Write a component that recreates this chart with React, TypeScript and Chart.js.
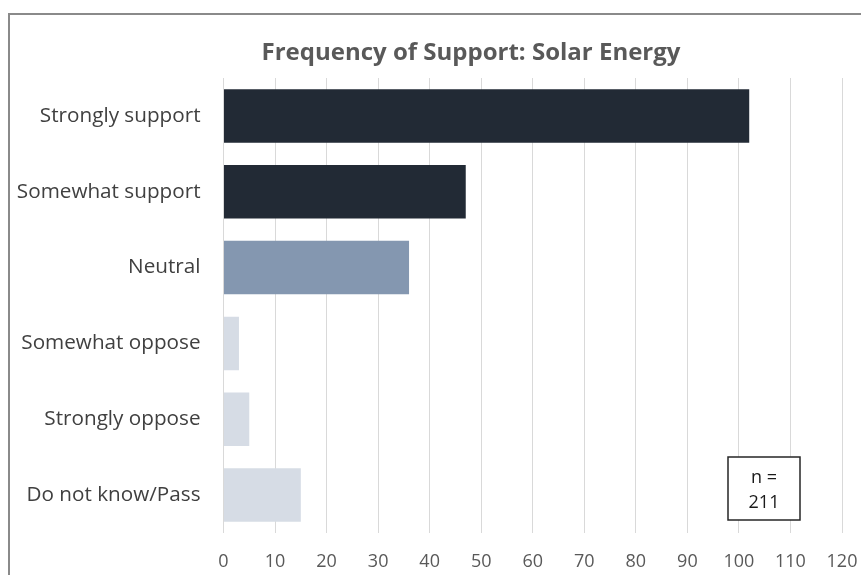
import React, { useEffect, useRef } from "react";
import { Chart, registerables } from "chart.js";

Chart.register(...registerables);

const TITLE = "Frequency of Support: Solar Energy";
const categories = [
  "Strongly support",
  "Somewhat support",
  "Neutral",
  "Somewhat oppose",
  "Strongly oppose",
  "Do not know/Pass",
];
const counts = [102, 47, 36, 3, 5, 15];
const barColors = ["#222A35", "#222A35", "#8497B0", "#D6DCE5", "#D6DCE5", "#D6DCE5"];
const xTicks = [0, 10, 20, 30, 40, 50, 60, 70, 80, 90, 100, 110, 120];
const noteLines = ["n =", "211"];

const FONT = "'Open Sans', 'DejaVu Sans', sans-serif";

const decorPlugin = {
  id: "decor",
  beforeDraw(chart: any) {
    const ctx = chart.ctx;
    ctx.save();
    ctx.fillStyle = "#ffffff";
    ctx.fillRect(0, 0, chart.width, chart.height);
    ctx.restore();
  },
  afterDraw(chart: any) {
    const ctx = chart.ctx;
    ctx.save();
    // outer frame (top and left edges visible)
    ctx.strokeStyle = "#8a8a8a";
    ctx.lineWidth = 2;
    ctx.beginPath();
    ctx.moveTo(9, chart.height);
    ctx.lineTo(9, 14);
    ctx.lineTo(chart.width, 14);
    ctx.stroke();

    // title
    ctx.fillStyle = "#595959";
    ctx.font = `bold 24px ${FONT}`;
    ctx.textAlign = "center";
    ctx.textBaseline = "middle";
    ctx.fillText(TITLE, 471, 53);

    // n box
    const bx = 728, by = 457, bw = 72, bh = 63;
    ctx.fillStyle = "#ffffff";
    ctx.fillRect(bx, by, bw, bh);
    ctx.strokeStyle = "#262626";
    ctx.lineWidth = 1.5;
    ctx.strokeRect(bx, by, bw, bh);
    ctx.fillStyle = "#1a1a1a";
    ctx.font = `18px ${FONT}`;
    ctx.fillText(noteLines[0], bx + bw / 2, 478);
    ctx.fillText(noteLines[1], bx + bw / 2, 503);
    ctx.restore();
  },
};

export default function App() {
  const ref = useRef<HTMLCanvasElement | null>(null);

  useEffect(() => {
    if (!ref.current) return;
    const chart = new Chart(ref.current, {
      type: "bar",
      data: {
        labels: categories,
        datasets: [
          {
            data: counts,
            backgroundColor: barColors,
            borderWidth: 0,
            barPercentage: 0.706,
            categoryPercentage: 1,
          },
        ],
      },
      options: {
        indexAxis: "y",
        animation: false,
        responsive: false,
        devicePixelRatio: 1,
        layout: { padding: { top: 78, right: 19, left: 0, bottom: 0 } },
        plugins: {
          legend: { display: false },
          title: { display: false },
          tooltip: { enabled: false },
        },
        scales: {
          x: {
            min: 0,
            max: 120,
            afterBuildTicks(scale: any) {
              scale.ticks = xTicks.map((v) => ({ value: v }));
            },
            afterFit(scale: any) {
              scale.height = 42;
              scale.paddingLeft = 0;
              scale.paddingRight = 0;
            },
            grid: { color: "#D9D9D9", lineWidth: 1, drawTicks: false },
            border: { display: false },
            ticks: {
              padding: 18,
              color: "#595959",
              font: { family: FONT, size: 18 },
              maxRotation: 0,
              autoSkip: false,
            },
          },
          y: {
            afterFit(scale: any) {
              scale.width = 223.5;
              scale.paddingTop = 0;
              scale.paddingBottom = 0;
            },
            grid: { display: false, drawTicks: false },
            border: { display: false },
            ticks: {
              padding: 23,
              color: "#404040",
              font: { family: FONT, size: 20.7 },
              autoSkip: false,
            },
          },
        },
      },
      plugins: [decorPlugin],
    });
    return () => chart.destroy();
  }, []);

  return (
    <div style={{ position: "absolute", left: 0, top: 0, width: 861, height: 575, background: "#fff" }}>
      <canvas ref={ref} width={861} height={575} style={{ display: "block", width: 861, height: 575 }} />
    </div>
  );
}
